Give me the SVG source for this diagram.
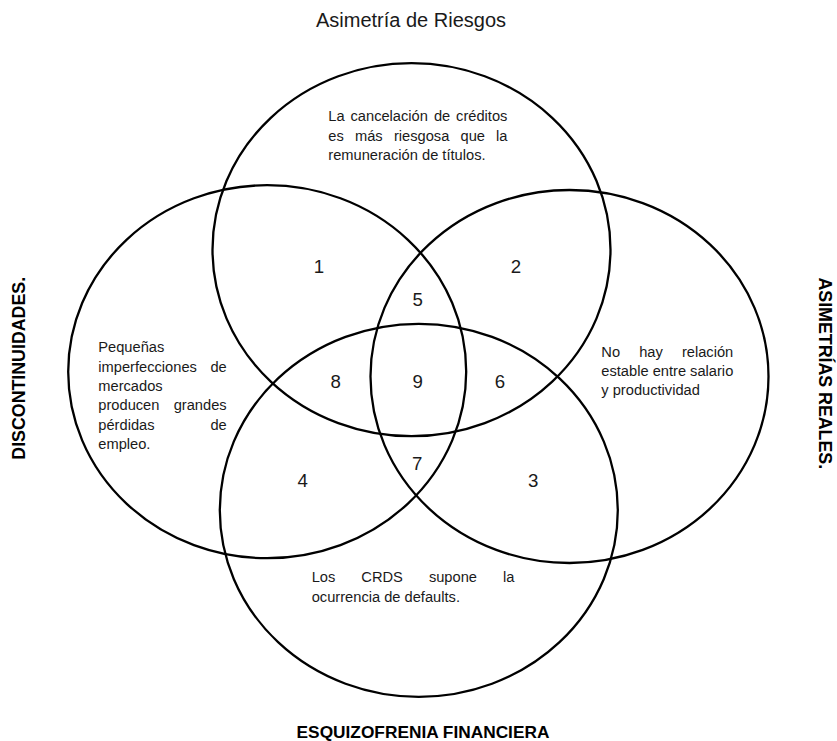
<svg xmlns="http://www.w3.org/2000/svg" width="837" height="741" viewBox="0 0 837 741">
  <style>
    .set { fill: none; stroke: #000; stroke-width: 2.3; }
    .body { font-family: "Liberation Sans", Arial, sans-serif; font-size: 14.67px; fill: #1a1a1a; }
    .num { font-family: "Liberation Sans", Arial, sans-serif; font-size: 18.67px; fill: #1a1a1a; text-anchor: middle; }
    .title { font-family: "Liberation Sans", Arial, sans-serif; font-size: 20px; fill: #1a1a1a; text-anchor: middle; }
    .axis { font-family: "Liberation Sans", Arial, sans-serif; font-weight: bold; font-size: 17.8px; fill: #000; text-anchor: middle; }
  </style>
  <rect width="837" height="741" fill="#fff"/>

  <!-- top set: Asimetría de Riesgos -->
  <g id="set-riesgos">
    <ellipse class="set" cx="411.5" cy="249.7" rx="199" ry="186.5"/>
    <text class="title" x="411" y="27.3">Asimetría de Riesgos</text>
    <text class="body" y="121"><tspan x="328.3">La</tspan><tspan x="350.5">cancelación</tspan><tspan x="433.9">de</tspan><tspan x="456.1">créditos</tspan></text>
    <text class="body" y="140.5"><tspan x="328.3">es</tspan><tspan x="355.0">más</tspan><tspan x="393.9">riesgosa</tspan><tspan x="460.5">que</tspan><tspan x="496.1">la</tspan></text>
    <text class="body" x="328.3" y="160">remuneración de títulos.</text>
  </g>

  <!-- left set: Discontinuidades -->
  <g id="set-discontinuidades">
    <ellipse class="set" cx="267.2" cy="371.7" rx="199" ry="186.5"/>
    <text class="axis" transform="translate(25 368.3) rotate(-90)">DISCONTINUIDADES.</text>
    <text class="body" x="98.3" y="352.3">Pequeñas</text>
    <text class="body" y="371.6"><tspan x="98.3">imperfecciones</tspan><tspan x="210.4">de</tspan></text>
    <text class="body" x="98.3" y="390.9">mercados</text>
    <text class="body" y="410.2"><tspan x="98.3">producen</tspan><tspan x="173.7">grandes</tspan></text>
    <text class="body" y="429.5"><tspan x="98.3">pérdidas</tspan><tspan x="210.4">de</tspan></text>
    <text class="body" x="98.3" y="448.8">empleo.</text>
  </g>

  <!-- right set: Asimetrías reales -->
  <g id="set-asimetrias-reales">
    <ellipse class="set" cx="569.5" cy="376.5" rx="199" ry="186.5"/>
    <text class="axis" transform="translate(818.5 373.3) rotate(90)">ASIMETRÍAS REALES.</text>
    <text class="body" y="356.7"><tspan x="601.3">No</tspan><tspan x="639.2">hay</tspan><tspan x="681.9">relación</tspan></text>
    <text class="body" x="601.3" y="376">estable entre salario</text>
    <text class="body" x="601.3" y="395.3">y productividad</text>
  </g>

  <!-- bottom set: Esquizofrenia financiera -->
  <g id="set-esquizofrenia">
    <ellipse class="set" cx="418.8" cy="510.3" rx="199" ry="186.5"/>
    <text class="axis" style="font-size:17.3px" x="423" y="737.5">ESQUIZOFRENIA FINANCIERA</text>
    <text class="body" y="582.3"><tspan x="311.7">Los</tspan><tspan x="361.3">CRDS</tspan><tspan x="428.9">supone</tspan><tspan x="502.9">la</tspan></text>
    <text class="body" x="311.7" y="601.6">ocurrencia de defaults.</text>
  </g>

  <!-- numbered overlap regions -->
  <g id="regions">
    <text class="num" x="319" y="273.4">1</text>
    <text class="num" x="516" y="273.4">2</text>
    <text class="num" x="533.3" y="487.4">3</text>
    <text class="num" x="302.7" y="487.4">4</text>
    <text class="num" x="417.7" y="306">5</text>
    <text class="num" x="500" y="388.4">6</text>
    <text class="num" x="417.3" y="470">7</text>
    <text class="num" x="335.7" y="388.4">8</text>
    <text class="num" x="417.7" y="388.4">9</text>
  </g>
</svg>
